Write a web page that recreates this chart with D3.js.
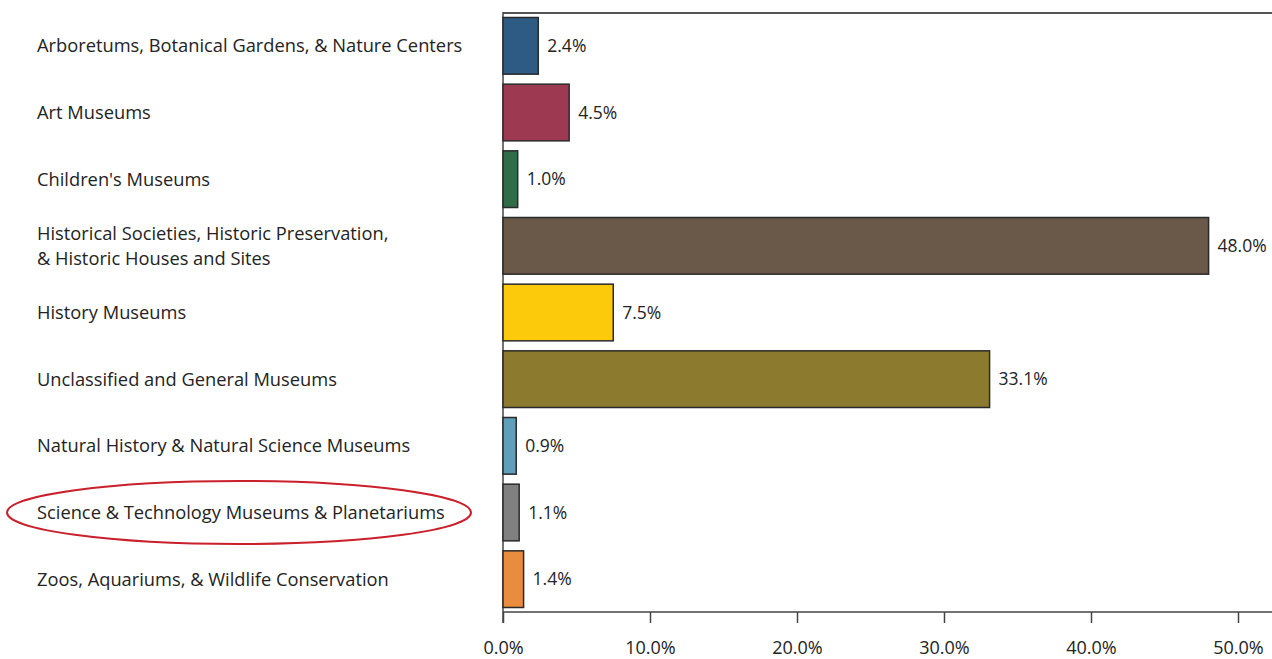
<!DOCTYPE html>
<html lang="en">
	<head>
		<meta charset="utf-8">
		<title>Museum types</title>
		<script src="https://cdn.jsdelivr.net/npm/d3@7"></script>
		<style type="text/css">
			body { margin: 0; background: #fff; }
			text { font-family: "Open Sans", sans-serif; fill: #232323; }
		</style>
	</head>
	<body>
		<script type="text/javascript">

			// Data
			var categories = [
				["Arboretums, Botanical Gardens, & Nature Centers"],
				["Art Museums"],
				["Children's Museums"],
				["Historical Societies, Historic Preservation,", "& Historic Houses and Sites"],
				["History Museums"],
				["Unclassified and General Museums"],
				["Natural History & Natural Science Museums"],
				["Science & Technology Museums & Planetariums"],
				["Zoos, Aquariums, & Wildlife Conservation"]
			];
			var shares = [2.4, 4.5, 1.0, 48.0, 7.5, 33.1, 0.9, 1.1, 1.4];
			var barColors = ["#2e5b84", "#9d3a52", "#2f6c48", "#6a5849", "#fcca0a",
			                 "#8c7b2f", "#5e9fb9", "#808080", "#e98c3d"];
			var xTicks = [0, 10, 20, 30, 40, 50];
			var highlighted = 7;  // circled category

			var w = 1272;
			var h = 659;
			var plotLeft = 503, plotRight = 1272, plotTop = 12.5, plotBottom = 612.5;

			var svg = d3.select("body")
						.append("svg")
						.attr("width", w)
						.attr("height", h);

			var xScale = d3.scaleLinear()
						   .domain([0, 50])
						   .range([plotLeft, 1238]);

			var yScale = d3.scaleBand()
						   .domain(d3.range(shares.length))
						   .range([plotTop, plotBottom])
						   .paddingInner(0.15)
						   .paddingOuter(0.075);

			//frame lines: top and left
			svg.append("line")
			   .attr("x1", plotLeft).attr("x2", plotRight)
			   .attr("y1", 13).attr("y2", 13)
			   .attr("stroke", "#555").attr("stroke-width", 2);

			svg.append("line")
			   .attr("x1", plotLeft).attr("x2", plotLeft)
			   .attr("y1", 12).attr("y2", 623)
			   .attr("stroke", "#444").attr("stroke-width", 1.5);

			//x axis
			var xAxis = d3.axisBottom(xScale)
						  .tickValues(xTicks)
						  .tickSize(11)
						  .tickFormat(function(d) { return d.toFixed(1) + "%"; });

			var gx = svg.append("g")
						.attr("transform", "translate(0," + 612 + ")")
						.call(xAxis);
			gx.select(".domain").remove();
			gx.append("line")
			  .attr("x1", plotLeft).attr("x2", plotRight)
			  .attr("y1", 0).attr("y2", 0)
			  .attr("stroke", "#444").attr("stroke-width", 1.5);
			gx.selectAll(".tick line").attr("stroke", "#444").attr("stroke-width", 1.5);
			gx.selectAll(".tick text")
			  .attr("y", 35.5)
			  .attr("dy", "0.35em")
			  .style("font-family", "'Open Sans', sans-serif")
			  .style("font-size", "18px")
			  .attr("fill", "#232323");

			//bars
			svg.selectAll("rect.bar")
			   .data(shares)
			   .enter()
			   .append("rect")
			   .attr("class", "bar")
			   .attr("x", xScale(0))
			   .attr("y", function(d, i) { return yScale(i); })
			   .attr("width", function(d) { return xScale(d) - xScale(0); })
			   .attr("height", yScale.bandwidth())
			   .attr("fill", function(d, i) { return barColors[i]; })
			   .attr("stroke", "#2a2a2a")
			   .attr("stroke-width", 1.5);

			//value labels
			svg.selectAll("text.val")
			   .data(shares)
			   .enter()
			   .append("text")
			   .attr("class", "val")
			   .text(function(d) { return d.toFixed(1) + "%"; })
			   .attr("x", function(d) { return xScale(d) + 9; })
			   .attr("y", function(d, i) { return yScale(i) + yScale.bandwidth() / 2; })
			   .attr("dy", "0.35em")
			   .attr("font-size", "17.5px");

			//category labels
			var labels = svg.selectAll("text.cat")
			   .data(categories)
			   .enter()
			   .append("text")
			   .attr("class", "cat")
			   .attr("x", 37)
			   .attr("y", function(d, i) { return yScale(i) + yScale.bandwidth() / 2; })
			   .attr("font-size", "18.3px");

			labels.selectAll("tspan")
				  .data(function(d) { return d; })
				  .enter()
				  .append("tspan")
				  .attr("x", 37)
				  .attr("dy", function(d, j, nodes) {
				  		var n = nodes.length;
				  		return j === 0 ? (0.35 - (n - 1) * 0.68) + "em" : "1.36em";
				  })
				  .text(function(d) { return d; });

			//red ellipse around highlighted category
			svg.append("ellipse")
			   .attr("cx", 239)
			   .attr("cy", yScale(highlighted) + yScale.bandwidth() / 2)
			   .attr("rx", 232)
			   .attr("ry", 31.5)
			   .attr("fill", "none")
			   .attr("stroke", "#c9202b")
			   .attr("stroke-width", 2);

		</script>
	</body>
</html>
